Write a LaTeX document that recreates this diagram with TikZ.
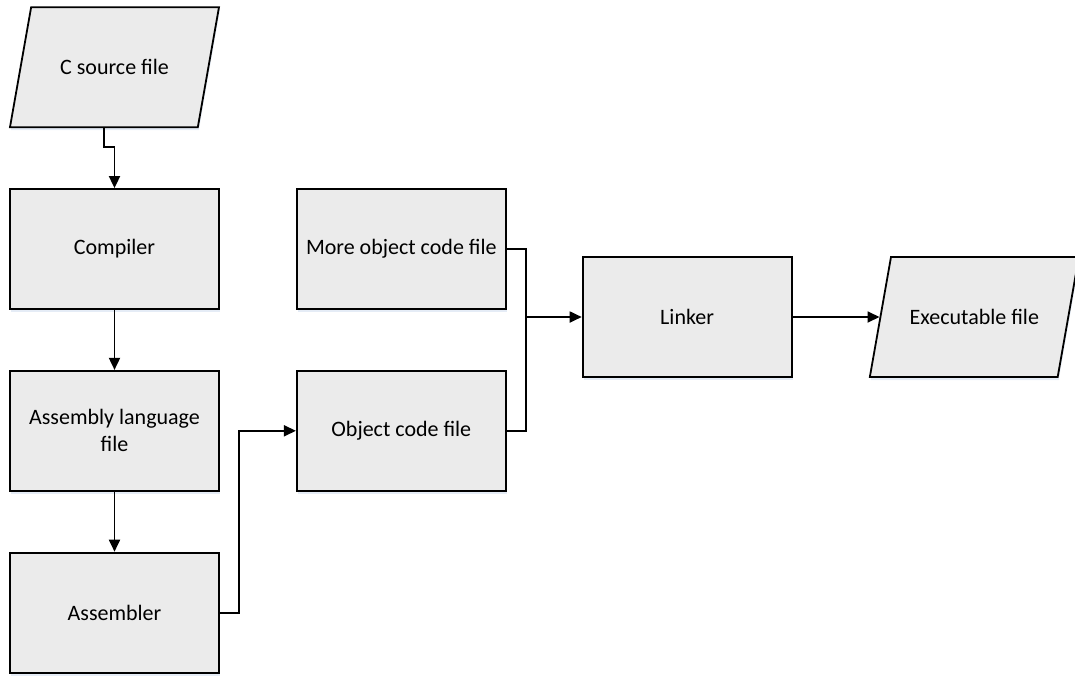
\documentclass[tikz,border=0pt]{standalone}
\usepackage{fontspec}
\setmainfont{Carlito}
\usepackage{tikz}
\usetikzlibrary{positioning}
\usetikzlibrary{arrows.meta}
\usetikzlibrary{shapes.geometric}
\usetikzlibrary{shadows}
\definecolor{boxfill}{HTML}{EBEBEB}
\definecolor{boxshadow}{HTML}{D3E0F0}

\begin{document}
\begin{tikzpicture}[->,
        >={Triangle[length=12pt,width=11pt]},
        line width=1.8pt,
        x=1pt, y=-1pt,
        node distance=60pt,
        stage/.style={
        draw=black,
        fill=boxfill,
        rectangle,
        minimum width=209pt,
        minimum height=120pt,
        align=center,
        text=black,
        font=\fontsize{22}{27}\selectfont,
        drop shadow={shadow xshift=1pt, shadow yshift=-3pt, fill=boxshadow, opacity=0.6}},
        file/.style={
        stage,
        trapezium,
        text height=15pt,
        text depth=0pt,
        inner ysep=52.5pt,
        trapezium left angle=80,
        trapezium right angle=100,
        trapezium stretches body=true}]

        \useasboundingbox (0,0) rectangle (1075,675);
        \node[stage] (comp) at (114.5,249) {Compiler};
        \node[file]  (src)  [above=of comp] {C source file};
        \node[stage] (asm)  [below=of comp] {Assembly language\\file};
        \node[stage] (asmr) [below=of asm] {Assembler};
        \node[stage] (more) [right=76pt of comp] {More object code file};
        \node[stage] (obj)  [right=76pt of asm] {Object code file};
        \node[stage] (link) [right=75pt of more, yshift=-68pt] {Linker};
        \node[file]  (exe)  [right=87pt of link] {Executable file};

        \draw ([xshift=-10.5pt]src.south) -- ++(0,19) -| (comp.north); % source->compiler
        \draw (comp) -- (asm);
        \draw (asm) -- (asmr);
        \draw (asmr.east) -- ++(19,0) |- (obj.west);
        \draw[-] (more.east) -- ++(19,0) coordinate (join) |- (obj.east); % both object files join
        \draw (join |- link.west) -- (link.west);
        \draw (link) -- (exe);
\end{tikzpicture}
\end{document}
